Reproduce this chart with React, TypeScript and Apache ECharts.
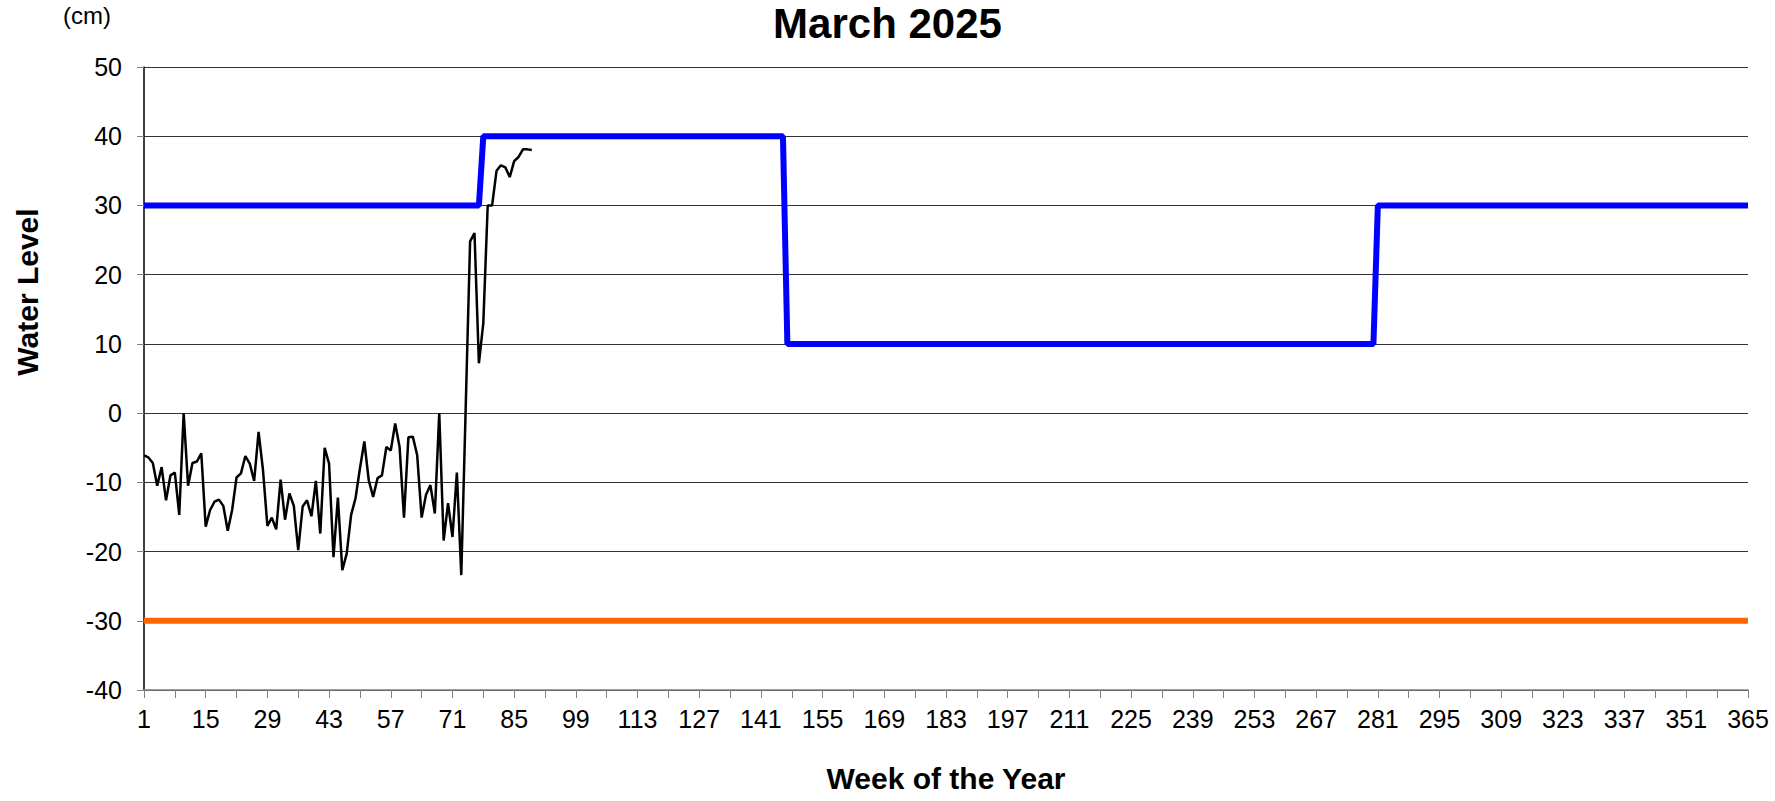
import React, { useEffect, useRef } from "react";
import * as echarts from "echarts";

const DAYS: string[] = Array.from({ length: 365 }, (_, i) => String(i + 1));

// Measured water level (cm), days 1..89
const measured: number[] = [
  -6.1, -6.4, -7.2, -10.5, -7.8, -12.6, -9, -8.6, -14.7, 0,
  -10.5, -7.2, -7, -5.8, -16.4, -14, -12.8, -12.5, -13.4, -17,
  -14, -9.3, -8.7, -6.2, -7.3, -9.8, -2.7, -8.2, -16.3, -15.1,
  -16.8, -9.6, -15.4, -11.6, -13.4, -19.8, -13.5, -12.6, -14.9, -9.8,
  -17.4, -5, -7.3, -20.8, -12.2, -22.7, -20.3, -14.7, -12.3, -8,
  -4.1, -9.7, -12.1, -9.4, -9, -4.9, -5.4, -1.5, -4.9, -15.1,
  -3.5, -3.4, -6.1, -15.1, -11.8, -10.4, -14.5, 0, -18.4, -13,
  -17.9, -8.6, -23.4, 0.7, 24.8, 26, 7.2, 13, 30, 30,
  35, 35.8, 35.5, 34.1, 36.4, 37, 38.1, 38.1, 38,
];

// Upper target level: [firstDay, lastDay, level]
const upperSteps: [number, number, number][] = [
  [1, 77, 30],
  [78, 146, 40],
  [147, 280, 10],
  [281, 365, 30],
];

// Lower limit: [firstDay, lastDay, level]
const lowerSteps: [number, number, number][] = [[1, 365, -30]];

const Y_MIN = -40;
const Y_MAX = 50;
const Y_INTERVAL = 10;

function buildSteps(steps: [number, number, number][]): number[] {
  const out: number[] = [];
  steps.forEach(([a, b, v]) => {
    for (let d = a; d <= b; d++) out[d - 1] = v;
  });
  return out;
}

const FONT = "'Liberation Sans', Arial, sans-serif";

export default function App() {
  const ref = useRef<HTMLDivElement>(null);

  useEffect(() => {
    if (!ref.current) return;
    const chart = echarts.init(ref.current, null, { renderer: "svg" });
    chart.setOption({
      animation: false,
      backgroundColor: "#ffffff",
      textStyle: { fontFamily: FONT },
      title: {
        text: "March 2025",
        left: "center",
        top: -3,
        textStyle: { fontFamily: FONT, fontSize: 42, fontWeight: "bold", color: "#000" },
      },
      graphic: [
        {
          type: "text",
          left: 63,
          top: 3,
          style: { text: "(cm)", font: `24px ${FONT}`, fill: "#000" },
        },
        {
          type: "text",
          x: 12,
          y: 292,
          rotation: Math.PI / 2,
          style: {
            text: "Water Level",
            font: `bold 30px ${FONT}`,
            fill: "#000",
            align: "center",
            verticalAlign: "top",
          },
        },
      ],
      grid: {
        left: 144,
        right: 27,
        top: 67,
        bottom: 111,
        containLabel: false,
        outerBoundsMode: "none",
      },
      xAxis: {
        type: "category",
        data: DAYS,
        boundaryGap: false,
        name: "Week of the Year",
        nameLocation: "middle",
        nameGap: 73,
        nameTextStyle: { fontFamily: FONT, fontSize: 30, fontWeight: "bold", color: "#000" },
        axisLine: { onZero: false, lineStyle: { color: "#808080", width: 1.5 } },
        axisTick: {
          interval: (i: number) => i % 7 === 0,
          length: 8,
          lineStyle: { color: "#808080", width: 1 },
        },
        axisLabel: {
          interval: (i: number) => i % 14 === 0,
          fontFamily: FONT,
          fontSize: 25,
          color: "#000",
          margin: 16,
        },
        splitLine: { show: false },
      },
      yAxis: {
        type: "value",
        min: Y_MIN,
        max: Y_MAX,
        interval: Y_INTERVAL,
        axisLine: { show: true, lineStyle: { color: "#000", width: 1.5 } },
        axisTick: { show: true, length: 7, lineStyle: { color: "#808080" } },
        axisLabel: { fontFamily: FONT, fontSize: 25, color: "#000", margin: 22 },
        splitLine: { show: true, lineStyle: { color: "#333", width: 1 } },
      },
      series: [
        {
          name: "lower",
          type: "line",
          data: buildSteps(lowerSteps),
          showSymbol: false,
          lineStyle: { color: "#ff6600", width: 6 },
          z: 2,
        },
        {
          name: "upper",
          type: "line",
          data: buildSteps(upperSteps),
          showSymbol: false,
          lineStyle: { color: "#0000ff", width: 6 },
          z: 3,
        },
        {
          name: "measured",
          type: "line",
          data: measured,
          showSymbol: false,
          lineStyle: { color: "#000", width: 2.5 },
          z: 4,
        },
      ],
    });
    return () => chart.dispose();
  }, []);

  return (
    <div
      ref={ref}
      style={{ position: "fixed", left: 0, top: 0, width: 1775, height: 801, background: "#fff" }}
    />
  );
}
